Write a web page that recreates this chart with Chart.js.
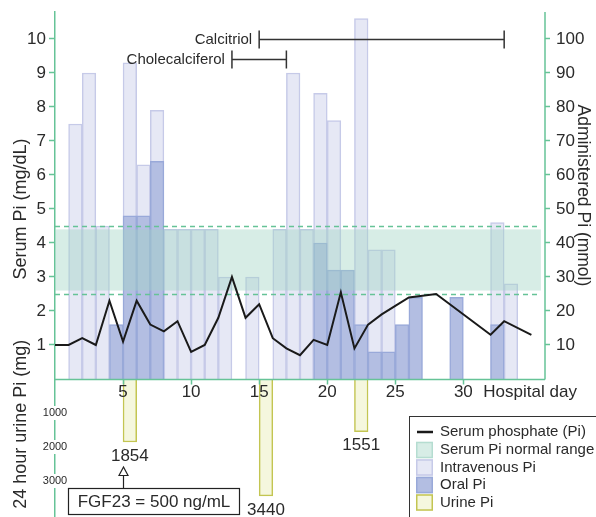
<!DOCTYPE html>
<html><head><meta charset="utf-8">
<script src="https://cdn.jsdelivr.net/npm/chart.js@4/dist/chart.umd.min.js"></script>
<style>html,body{margin:0;padding:0;background:#fff;}#wrap{position:relative;width:596px;height:517px;}</style>
</head><body><div id="wrap"><canvas id="c" width="596" height="517"></canvas></div>
<script>
// ---- data ----
const serumDays = [0,1,2,3,4,5,6,7,8,9,10,11,12,13,14,15,16,17,18,19,20,21,22,23,24,25,26,27,28,32,33,35];
const serumMgdl = [1.0,1.0,1.2,1.0,2.3,1.1,2.3,1.6,1.4,1.7,0.8,1.0,1.8,3.0,1.8,2.2,1.2,0.9,0.7,1.15,1.0,2.55,0.9,1.6,1.9,2.15,2.4,2.45,2.5,1.3,1.7,1.3];
const ivDays = [1,2,3,5,6,7,8,9,10,11,12,14,16,17,18,19,20,22,23,24,32,33];
const ivMmol = [75,90,45,93,63,79,44,44,44,44,30,30,44,90,44,84,76,106,38,38,46,28];
const oralDays = [4,5,6,7,19,20,21,22,23,24,25,26,29,32];
const oralMmol = [16,48,48,64,40,32,32,16,8,8,16,24,24,16];
const urineDays = [5,15,22];
const urineMg = [1854,3440,1551];
const normalLimits = [2.5,4.5];
const normalBand = [2.6,4.4];
const bandDays = [0,35.7];
const treatments = ['Calcitriol','Cholecalciferol'];
const treatStart = [15,13];
const treatEnd = [33,17];
const treatLevel = [10,9.4];
const fgfDay = 5;
const fgfText = 'FGF23 = 500 ng/mL';
const xTicks = [5,10,15,20,25,30];
const yTicks = [1,2,3,4,5,6,7,8,9,10];
const y2Ticks = [10,20,30,40,50,60,70,80,90,100];
const urineTicks = [1000,2000,3000];
const legendLabels = ['Serum phosphate (Pi)','Serum Pi normal range','Intravenous Pi','Oral Pi','Urine Pi'];

// ---- styles ----
const FONT = "'Liberation Sans', Arial, Helvetica, sans-serif";
const GREEN = '#66c397';
const TXT = '#2a2a2a';
const IV_FILL = '#e6e8f5', IV_BORDER = '#c6cae8';
const OR_FILL = '#b3bee2', OR_BORDER = '#99a9d9';
const UR_FILL = '#f5f7de', UR_BORDER = '#c3c552';
const BAND = 'rgba(160,212,196,0.42)';
const Y_MAX = 10.794, Y_MIN = -4.059;

Chart.defaults.font.family = FONT;

function vertText(ctx, text, x, y, rot, size) {
  ctx.save();
  ctx.translate(x, y); ctx.rotate(rot);
  ctx.font = size + 'px ' + FONT;
  ctx.textAlign = 'center'; ctx.textBaseline = 'middle';
  ctx.fillStyle = TXT;
  ctx.fillText(text, 0, 0);
  ctx.restore();
}

const deco = {
  id: 'deco',
  beforeDatasetDraw(chart, args) {
    if (args.meta.type !== 'line') return;
    const {ctx, scales: {x, y}} = chart;
    const x0 = x.getPixelForValue(bandDays[0]), x1 = x.getPixelForValue(bandDays[1]);
    ctx.save();
    ctx.fillStyle = BAND;
    const yt = y.getPixelForValue(normalBand[1]), yb = y.getPixelForValue(normalBand[0]);
    ctx.fillRect(x0, yt, x1 - x0, yb - yt);
    ctx.strokeStyle = GREEN; ctx.lineWidth = 1.5; ctx.setLineDash([5, 4]);
    for (const v of normalLimits) {
      const py = Math.round(y.getPixelForValue(v)) + 0.5;
      ctx.beginPath(); ctx.moveTo(x0, py); ctx.lineTo(x1, py); ctx.stroke();
    }
    ctx.restore();
  },
  afterDraw(chart) {
    const {ctx, chartArea: ca, scales: {x, y, y2, yu}} = chart;
    ctx.save();
    // right axis line (only over upper panel)
    const y0 = Math.round(y.getPixelForValue(0)) + 0.5;
    ctx.strokeStyle = GREEN; ctx.lineWidth = 1.5;
    ctx.beginPath(); ctx.moveTo(ca.right, ca.top); ctx.lineTo(ca.right, y0); ctx.stroke();
    // x axis (hospital day) drawn from the x scale
    ctx.beginPath(); ctx.moveTo(ca.left, y0); ctx.lineTo(ca.right, y0); ctx.stroke();
    ctx.beginPath();
    for (const t of xTicks) { const px = Math.round(x.getPixelForValue(t)) + 0.5; ctx.moveTo(px, y0); ctx.lineTo(px, y0 + 5); }
    ctx.stroke();
    ctx.fillStyle = TXT;
    ctx.font = '17px ' + FONT; ctx.textAlign = 'center'; ctx.textBaseline = 'middle';
    for (const t of xTicks) ctx.fillText(String(t), x.getPixelForValue(t), y0 + 13);
    ctx.textAlign = 'left';
    ctx.fillText('Hospital day', x.getPixelForValue(30) + 20, y0 + 13);

    // titles
    vertText(ctx, 'Serum Pi (mg/dL)', 21, y.getPixelForValue(5), -Math.PI / 2, 18);
    vertText(ctx, '24 hour urine Pi (mg)', 21, yu.getPixelForValue(1330), -Math.PI / 2, 18);
    vertText(ctx, 'Administered Pi (mmol)', 583, y2.getPixelForValue(54), Math.PI / 2, 17.5);

    // urine axis labels
    ctx.font = '11px ' + FONT; ctx.textAlign = 'center';
    for (const v of urineTicks) {
      const py = yu.getPixelForValue(v);
      const w = ctx.measureText(String(v)).width;
      ctx.fillStyle = '#fff'; ctx.fillRect(ca.left - w / 2 - 1, py - 7, w + 2, 14);
      ctx.fillStyle = TXT; ctx.fillText(String(v), ca.left, py);
    }
    // urine values
    ctx.font = '17px ' + FONT;
    urineDays.forEach((d, i) => {
      ctx.fillText(String(urineMg[i]), x.getPixelForValue(d + 0.5), yu.getPixelForValue(urineMg[i]) + 14);
    });

    // treatments
    ctx.font = '15px ' + FONT; ctx.textAlign = 'right';
    ctx.strokeStyle = '#333'; ctx.lineWidth = 1.5;
    treatments.forEach((t, i) => {
      const xa = x.getPixelForValue(treatStart[i]), xb = x.getPixelForValue(treatEnd[i]);
      const py = Math.round(y.getPixelForValue(treatLevel[i])) + 0.5;
      ctx.beginPath();
      ctx.moveTo(xa, py); ctx.lineTo(xb, py);
      ctx.moveTo(xa, py - 9); ctx.lineTo(xa, py + 9);
      ctx.moveTo(xb, py - 9); ctx.lineTo(xb, py + 9);
      ctx.stroke();
      ctx.fillStyle = TXT; ctx.fillText(t, xa - 7, py);
    });

    // FGF23 box + arrow
    const ax = Math.round(x.getPixelForValue(fgfDay)) + 0.5;
    ctx.strokeStyle = '#222'; ctx.lineWidth = 1.2;
    ctx.strokeRect(68.5, 488.5, 171, 26);
    ctx.beginPath(); ctx.moveTo(ax, 488.5); ctx.lineTo(ax, 475.5); ctx.stroke();
    ctx.beginPath(); ctx.moveTo(ax, 467); ctx.lineTo(ax - 4.5, 475.5); ctx.lineTo(ax + 4.5, 475.5); ctx.closePath();
    ctx.fillStyle = '#fff'; ctx.fill(); ctx.stroke();
    ctx.fillStyle = TXT; ctx.font = '17px ' + FONT; ctx.textAlign = 'center';
    ctx.fillText(fgfText, 154, 502);

    // legend
    ctx.strokeStyle = '#333'; ctx.lineWidth = 1;
    ctx.strokeRect(409.5, 416.5, 200, 120);
    const ys = [432, 450, 467.5, 485, 502.5];
    const sx = 416, sw = 17, sh = 16.5;
    ctx.font = '15px ' + FONT; ctx.textAlign = 'left'; ctx.textBaseline = 'middle';
    legendLabels.forEach((lab, i) => {
      const cy = ys[i];
      if (i === 0) {
        ctx.strokeStyle = '#1a1a1a'; ctx.lineWidth = 2.5;
        ctx.beginPath(); ctx.moveTo(sx + 1, cy); ctx.lineTo(sx + sw, cy); ctx.stroke();
      } else {
        const fills = [null, BAND, IV_FILL, OR_FILL, UR_FILL];
        const strokes = [null, 'rgba(160,212,196,0.6)', IV_BORDER, OR_BORDER, UR_BORDER];
        ctx.fillStyle = fills[i]; ctx.fillRect(sx, cy - sh / 2, sw, sh);
        ctx.strokeStyle = strokes[i]; ctx.lineWidth = 1.5;
        ctx.strokeRect(sx + 0.75, cy - sh / 2 + 0.75, sw - 1.5, sh - 1.5);
      }
      ctx.fillStyle = TXT; ctx.fillText(lab, 440, cy);
    });
    ctx.restore();
  }
};

const barCommon = {type: 'bar', grouped: false, barPercentage: 1, categoryPercentage: 1, borderWidth: 1.5, xAxisID: 'x'};
const noPad = s => { s.paddingTop = 0; s.paddingBottom = 0; s.paddingLeft = 0; s.paddingRight = 0; };

new Chart(document.getElementById('c'), {
  type: 'bar',
  data: {
    datasets: [
      {type: 'line', label: legendLabels[0], data: serumDays.map((d, i) => ({x: d, y: serumMgdl[i]})),
        xAxisID: 'x', yAxisID: 'y', borderColor: '#1a1a1a', borderWidth: 2, pointRadius: 0, tension: 0, order: 0},
      Object.assign({}, barCommon, {label: legendLabels[3], data: oralDays.map((d, i) => ({x: d + 0.5, y: oralMmol[i]})),
        yAxisID: 'y2', backgroundColor: OR_FILL, borderColor: OR_BORDER, order: 1}),
      Object.assign({}, barCommon, {label: legendLabels[2], data: ivDays.map((d, i) => ({x: d + 0.5, y: ivMmol[i]})),
        yAxisID: 'y2', backgroundColor: IV_FILL, borderColor: IV_BORDER, order: 2}),
      Object.assign({}, barCommon, {label: legendLabels[4], data: urineDays.map((d, i) => ({x: d + 0.5, y: urineMg[i]})),
        yAxisID: 'yu', backgroundColor: UR_FILL, borderColor: UR_BORDER, order: 3})
    ]
  },
  options: {
    responsive: false, animation: false, devicePixelRatio: 1,
    layout: {padding: {top: 12, bottom: 0, left: 0, right: 0}, autoPadding: false},
    plugins: {legend: {display: false}, tooltip: {enabled: false}},
    scales: {
      x: {type: 'linear', min: 0, max: 36, display: false, offset: false, afterFit: noPad},
      y: {type: 'linear', position: 'left', min: Y_MIN, max: Y_MAX,
        grid: {drawOnChartArea: false, color: GREEN, tickLength: 6, tickWidth: 1.5},
        border: {color: GREEN, width: 1.5},
        ticks: {font: {size: 17}, color: TXT, padding: 3},
        afterBuildTicks: s => { s.ticks = yTicks.map(v => ({value: v})); },
        afterFit: s => { s.width = 55; noPad(s); }},
      y2: {type: 'linear', position: 'right', min: Y_MIN * 10, max: Y_MAX * 10,
        grid: {drawOnChartArea: false, color: GREEN, tickLength: 5, tickWidth: 1.5},
        border: {display: false},
        ticks: {font: {size: 17}, color: TXT, padding: 6},
        afterBuildTicks: s => { s.ticks = y2Ticks.map(v => ({value: v})); },
        afterFit: s => { s.width = 51; noPad(s); }},
      yu: {type: 'linear', display: false, reverse: true, min: -Y_MAX * 1000, max: -Y_MIN * 1000}
    }
  },
  plugins: [deco]
});
</script></body></html>
